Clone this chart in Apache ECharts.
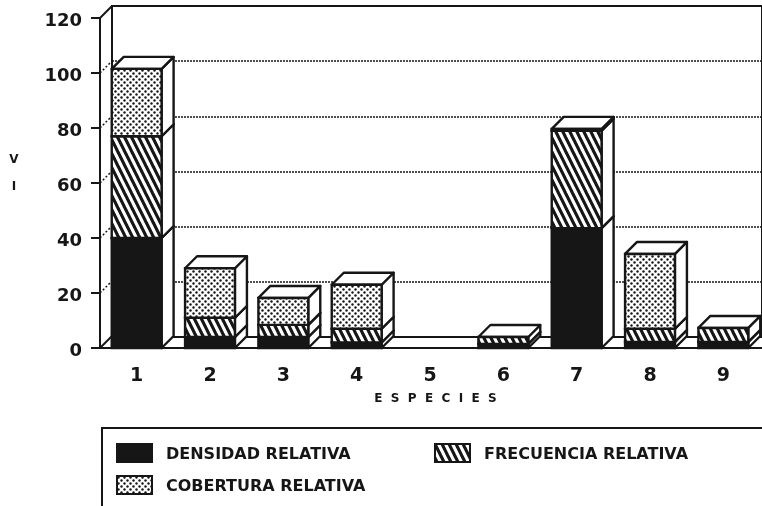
<!DOCTYPE html>
<html>
<head>
<meta charset="utf-8">
<script src="https://cdn.jsdelivr.net/npm/echarts@6/dist/echarts.min.js"></script>
<style>
  html, body { margin: 0; padding: 0; background: #fff; }
  #chart { width: 762px; height: 506px; }
</style>
</head>
<body>
<div id="chart"></div>
<script>
  const categories = ['1', '2', '3', '4', '5', '6', '7', '8', '9']
  const densidad = [40, 4, 4, 2, 0, 1.5, 43.6, 2.2, 2.2]
  const frecuencia = [37, 7, 4.4, 5, 0, 2.5, 35.4, 4.8, 5.1]
  const cobertura = [24.5, 18, 9.8, 16, 0, 0, 0.7, 27.2, 0]
  const yTicks = [0, 20, 40, 60, 80, 100, 120]

  const ink = '#161616'
  const depth = 12 // desplazamiento de la cara lateral

  // tramas de relleno
  function hatchTile() {
    const c = document.createElement('canvas')
    c.width = 7
    c.height = 14
    const g = c.getContext('2d')
    g.fillStyle = '#fff'
    g.fillRect(0, 0, 7, 14)
    g.strokeStyle = ink
    g.lineWidth = 3.2
    for (let i = -1; i <= 1; i++) {
      g.beginPath()
      g.moveTo(i * 7 - 1, -2)
      g.lineTo(i * 7 + 8, 16)
      g.stroke()
    }
    return { image: c, repeat: 'repeat' }
  }
  function dotTile() {
    const c = document.createElement('canvas')
    c.width = 6
    c.height = 6
    const g = c.getContext('2d')
    g.fillStyle = '#fff'
    g.fillRect(0, 0, 6, 6)
    g.fillStyle = ink
    ;[[1.5, 1.5], [4.5, 4.5]].forEach((p) => {
      g.beginPath()
      g.arc(p[0], p[1], 1.2, 0, Math.PI * 2)
      g.fill()
    })
    return { image: c, repeat: 'repeat' }
  }

  const stacks = [
    { name: 'DENSIDAD RELATIVA', values: densidad, fill: ink },
    { name: 'FRECUENCIA RELATIVA', values: frecuencia, fill: hatchTile() },
    { name: 'COBERTURA RELATIVA', values: cobertura, fill: dotTile() }
  ]

  const faceStyle = { fill: '#fff', stroke: ink, lineWidth: 2.4, lineJoin: 'round' }

  function renderSegment(fill) {
    return (params, api) => {
      if (api.value(2) <= api.value(1)) return null
      const low = api.coord([api.value(0), api.value(1)])
      const high = api.coord([api.value(0), api.value(2)])
      const half = api.size([1, 0])[0] * 0.34
      const x0 = low[0] - half
      const x1 = low[0] + half
      return {
        type: 'group',
        children: [
          {
            type: 'polygon',
            shape: { points: [[x1, low[1]], [x1 + depth, low[1] - depth], [x1 + depth, high[1] - depth], [x1, high[1]]] },
            style: faceStyle
          },
          {
            type: 'polygon',
            shape: { points: [[x0, high[1]], [x1, high[1]], [x1 + depth, high[1] - depth], [x0 + depth, high[1] - depth]] },
            style: faceStyle
          },
          {
            type: 'rect',
            shape: { x: x0, y: high[1], width: x1 - x0, height: low[1] - high[1] },
            style: { fill: fill, stroke: ink, lineWidth: 2.4 }
          }
        ]
      }
    }
  }

  // pared izquierda: diagonales de cada marca hacia el fondo
  function renderWall(params, api) {
    const v = api.value(0)
    const y = api.coord([0, v])[1]
    const x = params.coordSys.x
    const solid = v === yTicks[0] || v === yTicks[yTicks.length - 1]
    const children = [{
      type: 'line',
      shape: { x1: x, y1: y, x2: x + depth, y2: y - depth },
      style: solid ? { stroke: ink, lineWidth: 2 } : { stroke: ink, lineWidth: 1.5, lineDash: [2, 2] }
    }]
    if (v === yTicks[0]) {
      children.push({
        type: 'line',
        shape: { x1: x, y1: y, x2: api.getWidth(), y2: y },
        style: { stroke: ink, lineWidth: 2 }
      })
    }
    return { type: 'group', children: children }
  }

  let runningBase = categories.map(() => 0)
  const barSeries = stacks.map((s) => {
    const data = s.values.map((v, i) => [i, runningBase[i], runningBase[i] + v])
    runningBase = runningBase.map((b, i) => b + s.values[i])
    return {
      name: s.name,
      type: 'custom',
      xAxisIndex: 0,
      yAxisIndex: 0,
      z: 5,
      itemStyle: { color: typeof s.fill === 'string' ? s.fill : '#888' },
      encode: { x: 0, y: [1, 2] },
      renderItem: renderSegment(s.fill),
      data: data
    }
  })

  const legendPlaces = [
    { left: 116, top: 443 },
    { left: 434, top: 443 },
    { left: 116, top: 475 }
  ]

  const myChart = echarts.init(document.getElementById('chart'))
  myChart.setOption({
    backgroundColor: '#fff',
    animation: false,
    textStyle: { fontFamily: 'DejaVu Sans' },
    title: {
      text: 'V\n\nI',
      left: 14,
      top: 153,
      padding: 0,
      textAlign: 'center',
      textStyle: { color: ink, fontFamily: 'DejaVu Sans', fontSize: 12, fontWeight: 'bold', lineHeight: 13.5 }
    },
    grid: [
      { left: 100, top: 18, width: 660, height: 330 },
      { left: 112, top: 6, width: 680, height: 331, show: true, borderColor: ink, borderWidth: 2, backgroundColor: 'transparent' }
    ],
    xAxis: [
      {
        type: 'category',
        data: categories,
        gridIndex: 0,
        name: 'E  S  P  E  C  I  E  S',
        nameLocation: 'middle',
        nameGap: 45,
        nameTextStyle: { color: ink, fontFamily: 'DejaVu Sans', fontSize: 12, fontWeight: 'bold', padding: [0, 0, 0, 11] },
        axisLine: { show: false },
        axisTick: { alignWithLabel: true, length: 9, lineStyle: { color: ink, width: 2 } },
        axisLabel: { color: ink, fontFamily: 'DejaVu Sans', fontSize: 19, fontWeight: 'bold', margin: 19 }
      },
      {
        type: 'category',
        data: categories,
        gridIndex: 1,
        axisLine: { show: false },
        axisTick: { show: false },
        axisLabel: { show: false }
      }
    ],
    yAxis: [
      {
        type: 'value',
        gridIndex: 0,
        min: 0,
        max: 120,
        interval: 20,
        splitLine: { show: false },
        axisLine: { show: true, lineStyle: { color: ink, width: 2 } },
        axisTick: { show: true, length: 9, lineStyle: { color: ink, width: 2 } },
        axisLabel: {
          margin: 18,
          formatter: '{t|{value}}',
          rich: { t: { color: ink, fontFamily: 'DejaVu Sans', fontSize: 18, fontWeight: 'bold', padding: [6, 0, 0, 0] } }
        }
      },
      {
        type: 'value',
        gridIndex: 1,
        min: 0,
        max: 120,
        interval: 20,
        axisLine: { show: false },
        axisTick: { show: false },
        axisLabel: { show: false },
        splitLine: { show: true, lineStyle: { color: ink, width: 1.5, type: [2, 1] } }
      }
    ],
    legend: stacks.map((s, i) => ({
      left: legendPlaces[i].left,
      top: legendPlaces[i].top,
      data: [{ name: s.name, icon: 'rect', itemStyle: { color: s.fill, borderColor: ink, borderWidth: 2 } }],
      selectedMode: false,
      itemWidth: 35,
      itemHeight: 18,
      itemGap: 0,
      padding: 0,
      formatter: '{t|{name}}',
      textStyle: {
        rich: { t: { color: ink, fontFamily: 'DejaVu Sans', fontSize: 16, fontWeight: 'bold', padding: [4, 0, 0, 9] } }
      }
    })),
    graphic: [{
      type: 'rect',
      left: 101,
      top: 427,
      shape: { width: 720, height: 120 },
      style: { fill: 'transparent', stroke: ink, lineWidth: 2 },
      z: 0
    }],
    series: [
      {
        type: 'custom',
        xAxisIndex: 0,
        yAxisIndex: 0,
        z: 3,
        silent: true,
        encode: { y: 0 },
        renderItem: renderWall,
        data: yTicks.map((v) => [v])
      }
    ].concat(barSeries)
  })

  window.addEventListener('resize', () => {
    myChart && myChart.resize()
  })
</script>
</body>
</html>
